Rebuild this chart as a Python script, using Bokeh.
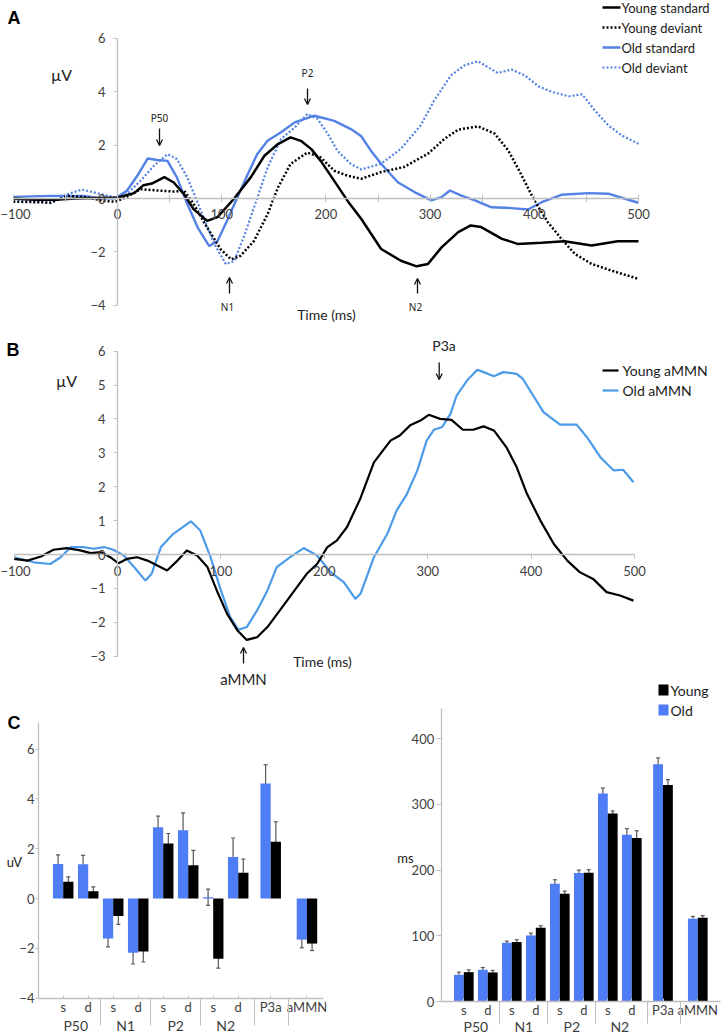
from bokeh.plotting import figure
from bokeh.models import (Range1d, LinearAxis, FixedTicker, Whisker, TeeHead, Arrow,
                          OpenHead, ColumnDataSource)
from bokeh.core.properties import value
from bokeh.embed import file_html
from bokeh.resources import INLINE

# ---------------- DATA ----------------
# Panel A: ERPs (time in ms, amplitude in µV)
ys_t = [-100,-80,-60,-40,-20,0,16,25,33,45,54,64,73,86,96,112,128,141,154,166,176,186,195,208,221,234,253,272,287,298,311,327,339,349,369,384,407,429,455,480,500]
ys_v = [0.0,-0.05,-0.05,0.0,0.02,0.04,0.2,0.5,0.56,0.8,0.6,0.15,-0.4,-0.84,-0.7,0.0,0.8,1.6,2.04,2.29,2.16,1.85,1.41,0.66,-0.1,-0.77,-1.89,-2.33,-2.54,-2.45,-1.83,-1.26,-1.01,-1.07,-1.51,-1.7,-1.66,-1.6,-1.76,-1.6,-1.6]
yd_t = [-100,-64,-48,-29,-13,-2,8,22,35,54,64,73,86,99,109,118,131,144,154,166,182,195,208,221,234,253,275,298,314,327,346,362,375,387,400,413,426,439,455,474,500]
yd_v = [-0.12,-0.15,0.1,0.04,-0.09,-0.12,0.04,0.35,0.31,0.26,0.29,-0.2,-1.09,-1.9,-2.28,-2.15,-1.59,-0.59,0.41,1.29,1.72,1.54,1.04,0.85,0.74,0.99,1.18,1.68,2.24,2.58,2.7,2.43,1.8,0.93,-0.07,-0.89,-1.51,-2.08,-2.45,-2.7,-3.01]
os_t = [-100,-64,-32,-16,-2,9,19,29,38,48,57,67,77,88,96,105,115,125,134,144,157,170,189,208,224,234,243,253,269,285,301,311,319,330,343,359,378,394,407,426,452,471,487,500]
os_v = [0.06,0.1,0.1,0.0,0.01,0.29,0.85,1.5,1.44,1.41,0.79,-0.21,-1.09,-1.78,-1.59,-0.84,0.04,0.91,1.66,2.16,2.48,2.85,3.1,2.91,2.6,2.33,1.8,1.3,0.61,0.24,-0.07,0.05,0.3,0.11,-0.07,-0.33,-0.36,-0.41,-0.14,0.14,0.2,0.18,-0.01,-0.16]
od_t = [-100,-64,-48,-34,-16,-2,9,22,35,48,57,67,80,93,104,112,121,131,144,157,170,182,192,202,211,224,234,253,272,291,304,320,333,346,355,365,378,391,404,417,433,446,458,471,484,500]
od_v = [-0.05,-0.17,0.16,0.34,0.16,0.04,0.16,0.66,1.23,1.66,1.48,0.79,-0.46,-1.71,-2.46,-2.34,-1.46,-0.34,1.16,2.23,2.66,3.16,2.98,2.41,1.79,1.29,1.09,1.3,1.86,2.74,3.68,4.61,4.99,5.14,4.93,4.7,4.83,4.61,4.2,3.99,3.83,3.9,3.3,2.74,2.36,2.05]
legend_a = ["Young standard", "Young deviant", "Old standard", "Old deviant"]

# Panel B: aMMN difference waves
ya_t = [-100,-87,-74,-62,-49,-36,-26,-16,-7,1,9,19,29,38,48,58,67,77,87,96,106,116,125,135,145,157,170,183,193,203,212,222,235,248,264,273,283,293,301,312,323,334,344,354,364,376,386,396,409,422,435,447,460,473,486,499]
ya_v = [-0.13,-0.18,-0.06,0.14,0.19,0.12,0.04,0.07,-0.08,-0.26,-0.13,-0.08,-0.18,-0.32,-0.47,-0.18,0.12,-0.03,-0.37,-1.06,-1.75,-2.24,-2.52,-2.44,-2.14,-1.65,-1.11,-0.57,-0.28,0.22,0.41,0.81,1.66,2.72,3.36,3.51,3.81,3.95,4.12,4.0,3.97,3.68,3.68,3.78,3.66,3.17,2.58,1.79,1.0,0.31,-0.18,-0.52,-0.72,-1.11,-1.21,-1.36]
oa_t = [-100,-81,-65,-55,-45,-33,-23,-13,-4,6,16,27,33,42,54,71,80,90,100,109,117,125,135,145,154,167,180,193,206,219,230,235,248,261,270,280,290,299,306,314,322,328,338,348,354,364,373,386,392,402,412,428,444,454,467,480,489,499]
oa_v = [-0.08,-0.23,-0.28,-0.08,0.22,0.22,0.17,0.22,0.14,-0.03,-0.37,-0.77,-0.57,0.22,0.61,0.98,0.71,-0.08,-1.06,-1.85,-2.22,-2.14,-1.65,-1.06,-0.37,-0.08,0.19,-0.03,-0.52,-0.82,-1.31,-1.16,-0.08,0.61,1.3,1.79,2.48,3.36,3.68,3.76,4.15,4.69,5.13,5.45,5.38,5.26,5.38,5.33,5.18,4.69,4.2,3.83,3.83,3.46,2.87,2.48,2.5,2.13]
legend_b = ["Young aMMN", "Old aMMN"]

# Panel C: peak amplitudes (uV) and latencies (ms)
sub_labels = ["s", "d", "s", "d", "s", "d", "s", "d", "P3a", "aMMN"]
group_labels = ["P50", "N1", "P2", "N2"]
amp_old = [1.39, 1.38, -1.61, -2.18, 2.86, 2.74, 0.05, 1.67, 4.62, -1.65]
amp_old_err = [0.36, 0.35, 0.33, 0.45, 0.45, 0.70, 0.33, 0.76, 0.75, 0.33]
amp_young = [0.67, 0.29, -0.70, -2.13, 2.21, 1.34, -2.42, 1.03, 2.28, -1.81]
amp_young_err = [0.20, 0.18, 0.34, 0.42, 0.40, 0.59, 0.38, 0.55, 0.80, 0.28]
lat_old = [40.6, 48.2, 89.3, 100.5, 179.2, 195.4, 316.2, 253.8, 361.0, 125.9]
lat_old_err = [4.0, 3.5, 2.5, 3.5, 6.0, 4.5, 8.5, 9.0, 9.5, 3.5]
lat_young = [44.7, 44.2, 90.4, 112.2, 164.0, 196.0, 285.8, 248.7, 329.4, 127.4]
lat_young_err = [3.5, 3.0, 3.5, 3.0, 4.0, 4.5, 4.0, 11.0, 8.0, 3.3]
legend_c = ["Young", "Old"]

# ---------------- LAYOUT ----------------
W, H = 723, 1034
FONT = "Lato"
AX = "#BFBFBF"
TXT = "#404040"
BLUE_A = "#5381E6"
BLUE_B = "#4C9BE8"
BLUE_BAR = "#4F7DF5"
ERR = "#595959"

def xr(origin, scale):
    return Range1d(-origin / scale, (W - origin) / scale)

def yr(origin, scale):
    return Range1d(origin / scale - H / scale, origin / scale)

p = figure(width=W, height=H, x_range=Range1d(0, W), y_range=Range1d(H, 0),
           output_backend="svg", toolbar_location=None, x_axis_type=None,
           y_axis_type=None, min_border=0, outline_line_color=None,
           background_fill_color="white", border_fill_color="white")
p.extra_x_ranges = {"xA": xr(117, 1.042), "xB": xr(117, 1.034),
                    "xCL": xr(62.7, 25.0), "xCR": xr(463.3, 24.0)}
p.extra_y_ranges = {"yA": yr(198, 26.7), "yB": yr(554, 33.9),
                    "yCL": yr(898, 24.9), "yCR": yr(1001, 0.6575)}

def axis(xn, yn, loc, bounds, ticks, minor=None, side="below", tin=0, tout=4,
         mtin=0, mtout=0, standoff=6, size="13px", overrides=None, line=True):
    t = FixedTicker(ticks=ticks, minor_ticks=minor or [])
    a = LinearAxis(x_range_name=xn, y_range_name=yn, fixed_location=loc, bounds=bounds,
                   ticker=t, axis_line_color=AX if line else None, axis_line_width=1.3,
                   major_tick_line_color=AX if (tin or tout) else None,
                   major_tick_in=tin, major_tick_out=tout,
                   minor_tick_line_color=AX if minor else None,
                   minor_tick_in=mtin, minor_tick_out=mtout,
                   major_label_standoff=standoff,
                   major_label_text_font=FONT, major_label_text_font_size=size,
                   major_label_text_color=TXT)
    if overrides:
        a.major_label_overrides = overrides
    p.add_layout(a, side)
    return a

def txt(x, y, s, size="13px", align="center", bold=False, font=FONT, color="#222222"):
    p.text(x=[x], y=[y], text=[s], text_font=value(font), text_font_size=size,
           text_align=align, text_baseline="middle", text_color=color,
           text_font_style="bold" if bold else "normal")

def arrow(x, y0, y1):
    p.add_layout(Arrow(x_start=x, y_start=y0, x_end=x, y_end=y1, line_width=1.3,
                       line_color="#111111",
                       end=OpenHead(size=6, line_width=1.3, line_color="#111111")))

# ----- Panel A -----
axis("xA", "yA", 0, (-100, 500), list(range(-100, 501, 100)),
     minor=list(range(-50, 500, 100)), tin=4, tout=4, mtin=4, mtout=4, standoff=6)
axis("xA", "yA", 0, (-4, 6), [-4, -2, 0, 2, 4, 6], side="left", tout=4, standoff=8)
kwA = dict(x_range_name="xA", y_range_name="yA")
p.line(os_t, os_v, line_color=BLUE_A, line_width=2.4, **kwA)
p.line(od_t, od_v, line_color=BLUE_A, line_width=2.2, line_dash="2 2", **kwA)
p.line(yd_t, yd_v, line_color="black", line_width=2.5, line_dash="2 2", **kwA)
p.line(ys_t, ys_v, line_color="black", line_width=2.5, **kwA)

txt(13.5, 17.5, "A", size="18px", bold=True, font="Liberation Sans", color="black")
txt(61, 74, "µV", size="16px")
txt(326, 314, "Time (ms)", size="14px")
txt(159, 117.5, "P50", size="10px", font="Noto Sans")
arrow(159, 128, 145)
txt(307, 72, "P2", size="10px", font="Noto Sans")
arrow(307, 88, 104)
txt(227, 306, "N1", size="10px", font="Noto Sans")
arrow(229, 293, 277)
txt(415, 306, "N2", size="10px", font="Noto Sans")
arrow(417, 293, 278)

la_rows = [7, 27, 47, 67]
la_style = [("black", None, 2.5), ("black", "2 2", 2.5), (BLUE_A, None, 2.4), (BLUE_A, "2 2", 2.2)]
for lab, yy, (c, d, w) in zip(legend_a, la_rows, la_style):
    if d:
        p.line([602, 620], [yy, yy], line_color=c, line_width=w, line_dash=d)
    else:
        p.line([602, 620], [yy, yy], line_color=c, line_width=w)
    txt(621, yy, lab, size="13px", align="left", color="#1a1a1a")

# ----- Panel B -----
axis("xB", "yB", 0, (-100, 500), list(range(-100, 501, 100)), tout=4, standoff=7)
axis("xB", "yB", 0, (-3, 6), list(range(-3, 7)), side="left", tout=4, standoff=8)
kwB = dict(x_range_name="xB", y_range_name="yB")
p.line(oa_t, oa_v, line_color=BLUE_B, line_width=2.2, **kwB)
p.line(ya_t, ya_v, line_color="black", line_width=2.2, **kwB)

txt(12.5, 349, "B", size="18px", bold=True, font="Liberation Sans", color="black")
txt(66, 380, "µV", size="16px")
txt(322, 661, "Time (ms)", size="14px")
txt(443.5, 345, "P3a", size="14px")
arrow(438.7, 362, 379)
txt(243, 678, "aMMN", size="15px")
arrow(243, 663, 647)
for lab, yy, c in zip(legend_b, [370, 390], ["black", BLUE_B]):
    p.line([602, 618], [yy, yy], line_color=c, line_width=2.2)
    txt(622, yy, lab, size="14px", align="left", color="#1a1a1a")

# ----- Panel C (shared category positions) -----
pos = [0, 1, 2, 3, 4, 5, 6, 7, 8.3, 9.75]
bw = 0.41
pos_old = [x - bw / 2 for x in pos]
pos_young = [x + bw / 2 for x in pos]
grp_centers = [(pos[2 * i] + pos[2 * i + 1]) / 2 for i in range(4)]
seps = [(pos[i] + pos[i + 1]) / 2 for i in (1, 3, 5, 7, 8)]

def bar_panel(xn, yn, old, old_err, young, young_err, yaxis_loc, ybounds, yticks,
              xbounds, ytout, ystand, sep_len, row1, row2):
    kw = dict(x_range_name=xn, y_range_name=yn)
    axis(xn, yn, yaxis_loc, ybounds, yticks, side="left", tout=ytout, standoff=ystand)
    axis(xn, yn, ybounds[0], xbounds, pos, tin=3, tout=0, standoff=row1, size="13px",
         overrides=dict(zip(pos, sub_labels)))
    axis(xn, yn, ybounds[0], xbounds, grp_centers, minor=seps, tin=0, tout=0,
         mtin=0, mtout=sep_len, standoff=row2, size="14px",
         overrides=dict(zip(grp_centers, group_labels)), line=False)
    p.vbar(x=pos_old, top=old, bottom=0, width=bw, fill_color=BLUE_BAR, line_color=None, **kw)
    p.vbar(x=pos_young, top=young, bottom=0, width=bw, fill_color="black", line_color=None, **kw)
    for xs, v, e in ((pos_old, old, old_err), (pos_young, young, young_err)):
        src = ColumnDataSource(dict(x=xs, up=[a + b for a, b in zip(v, e)],
                                    lo=[a - b for a, b in zip(v, e)]))
        p.add_layout(Whisker(source=src, base="x", upper="up", lower="lo",
                             dimension="height", line_color=ERR, line_width=1.2,
                             upper_head=TeeHead(size=4, line_color=ERR, line_width=1.2),
                             lower_head=TeeHead(size=4, line_color=ERR, line_width=1.2),
                             **kw))

bar_panel("xCL", "yCL", amp_old, amp_old_err, amp_young, amp_young_err,
          -0.99, (-4, 7.07), [-4, -2, 0, 2, 4, 6], (-0.99, 10.41), 3, 1, 27, 1, -8)
bar_panel("xCR", "yCR", lat_old, lat_old_err, lat_young, lat_young_err,
          -0.94, (0, 445), [0, 100, 200, 300, 400], (-0.94, 10.7), 5, 2, 22, 0, -6)

txt(13.5, 722, "C", size="18px", bold=True, font="Liberation Sans", color="black")
txt(14, 861, "uV", size="13px")
txt(405, 857, "ms", size="13px")
for lab, yy, c in zip(legend_c, [689.5, 709.5], ["black", BLUE_BAR]):
    p.rect(x=[663], y=[yy], width=10, height=11, fill_color=c, line_color=None)
    txt(670, yy, lab, size="14px", align="left", color="#1a1a1a")

open("out.html", "w").write(file_html(p, INLINE))
